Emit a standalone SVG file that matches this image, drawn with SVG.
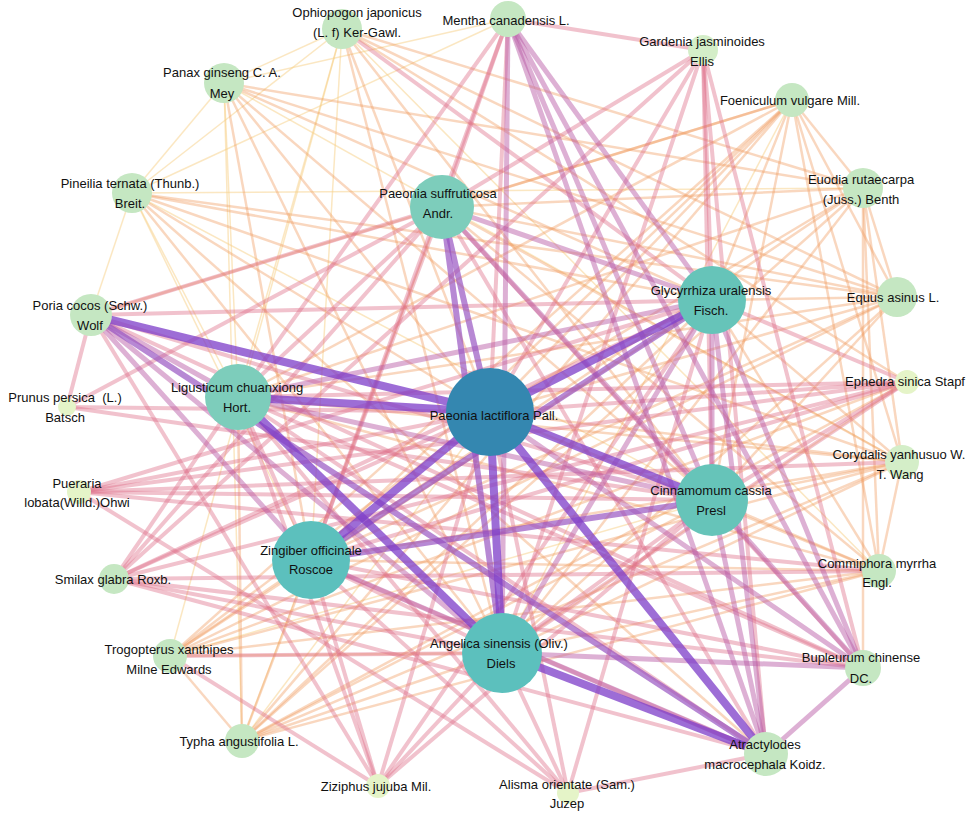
<svg xmlns="http://www.w3.org/2000/svg" width="976" height="813" viewBox="0 0 976 813">
<style>
  .g{stroke:#f8cf85;stroke-opacity:.5;stroke-width:1.5}
  .f{stroke:#f09a5e;stroke-opacity:.4;stroke-width:2.5}
  .d{stroke:#dd6d88;stroke-opacity:.42;stroke-width:4}
  .c{stroke:#b85aa6;stroke-opacity:.48;stroke-width:5}
  .b{stroke:#9550c0;stroke-opacity:.68;stroke-width:6}
  .a{stroke:#7e3fc9;stroke-opacity:.76;stroke-width:8}
  text{font-family:"Liberation Sans",Arial,sans-serif;font-size:13px;fill:#111;text-anchor:middle}
  .hub{fill:#3487b0}
  .t1{fill:#5cc0bd}
  .t2{fill:#66c4b9}
  .t3{fill:#7dcdbb}
  .n1{fill:#c5e7c2}
  .n2{fill:#d4eec8}
  .n3{fill:#e5f4c8}
</style>
<rect width="976" height="813" fill="#fff"/>
<g id="connectors" fill="none">
  <!-- yellow -->
  <line class="g" x1="342" y1="29" x2="224" y2="83"/>
  <line class="g" x1="342" y1="29" x2="132" y2="193"/>
  <line class="g" x1="224" y1="83" x2="132" y2="193"/>
  <line class="g" x1="132" y1="193" x2="863" y2="188"/>
  <line class="g" x1="224" y1="83" x2="238" y2="397"/>
  <line class="g" x1="342" y1="29" x2="238" y2="397"/>
  <line class="g" x1="132" y1="193" x2="238" y2="397"/>
  <line class="g" x1="132" y1="193" x2="91" y2="315"/>
  <line class="g" x1="342" y1="29" x2="311" y2="560"/>
  <line class="g" x1="132" y1="193" x2="311" y2="560"/>
  <line class="g" x1="224" y1="83" x2="242" y2="741"/>
  <line class="g" x1="342" y1="29" x2="170" y2="656"/>
  <line class="g" x1="224" y1="83" x2="902" y2="462"/>
  <line class="g" x1="342" y1="29" x2="879" y2="571"/>
  <line class="g" x1="508" y1="19" x2="224" y2="83"/>
  <line class="g" x1="508" y1="19" x2="132" y2="193"/>
  <line class="g" x1="442" y1="207" x2="242" y2="741"/>
  <line class="g" x1="712" y1="500" x2="170" y2="656"/>
  <line class="g" x1="502" y1="653" x2="907" y2="382"/>
  <line class="g" x1="490" y1="412" x2="242" y2="741"/>
  <line class="g" x1="502" y1="653" x2="792" y2="100"/>
  <line class="g" x1="132" y1="193" x2="712" y2="500"/>
  <!-- orange -->
  <line class="f" x1="792" y1="100" x2="442" y2="207"/>
  <line class="f" x1="792" y1="100" x2="490" y2="412"/>
  <line class="f" x1="792" y1="100" x2="311" y2="560"/>
  <line class="f" x1="792" y1="100" x2="238" y2="397"/>
  <line class="f" x1="792" y1="100" x2="242" y2="741"/>
  <line class="f" x1="792" y1="100" x2="170" y2="656"/>
  <line class="f" x1="792" y1="100" x2="712" y2="300"/>
  <line class="f" x1="792" y1="100" x2="712" y2="500"/>
  <line class="f" x1="792" y1="100" x2="863" y2="188"/>
  <line class="f" x1="792" y1="100" x2="897" y2="297"/>
  <line class="f" x1="792" y1="100" x2="902" y2="462"/>
  <line class="f" x1="792" y1="100" x2="879" y2="571"/>
  <line class="f" x1="792" y1="100" x2="91" y2="315"/>
  <line class="f" x1="863" y1="188" x2="490" y2="412"/>
  <line class="f" x1="863" y1="188" x2="238" y2="397"/>
  <line class="f" x1="863" y1="188" x2="311" y2="560"/>
  <line class="f" x1="863" y1="188" x2="502" y2="653"/>
  <line class="f" x1="863" y1="188" x2="224" y2="83"/>
  <line class="f" x1="863" y1="188" x2="342" y2="29"/>
  <line class="f" x1="863" y1="188" x2="902" y2="462"/>
  <line class="f" x1="863" y1="188" x2="879" y2="571"/>
  <line class="f" x1="863" y1="188" x2="897" y2="297"/>
  <line class="f" x1="863" y1="188" x2="442" y2="207"/>
  <line class="f" x1="863" y1="188" x2="242" y2="741"/>
  <line class="f" x1="863" y1="188" x2="863" y2="668"/>
  <line class="f" x1="897" y1="297" x2="442" y2="207"/>
  <line class="f" x1="897" y1="297" x2="490" y2="412"/>
  <line class="f" x1="897" y1="297" x2="238" y2="397"/>
  <line class="f" x1="897" y1="297" x2="311" y2="560"/>
  <line class="f" x1="897" y1="297" x2="502" y2="653"/>
  <line class="f" x1="897" y1="297" x2="712" y2="300"/>
  <line class="f" x1="897" y1="297" x2="224" y2="83"/>
  <line class="f" x1="897" y1="297" x2="132" y2="193"/>
  <line class="f" x1="897" y1="297" x2="170" y2="656"/>
  <line class="f" x1="897" y1="297" x2="712" y2="500"/>
  <line class="f" x1="902" y1="462" x2="490" y2="412"/>
  <line class="f" x1="902" y1="462" x2="502" y2="653"/>
  <line class="f" x1="902" y1="462" x2="311" y2="560"/>
  <line class="f" x1="902" y1="462" x2="238" y2="397"/>
  <line class="f" x1="902" y1="462" x2="712" y2="300"/>
  <line class="f" x1="902" y1="462" x2="712" y2="500"/>
  <line class="f" x1="902" y1="462" x2="170" y2="656"/>
  <line class="f" x1="902" y1="462" x2="242" y2="741"/>
  <line class="f" x1="902" y1="462" x2="879" y2="571"/>
  <line class="f" x1="902" y1="462" x2="132" y2="193"/>
  <line class="f" x1="902" y1="462" x2="442" y2="207"/>
  <line class="f" x1="879" y1="571" x2="490" y2="412"/>
  <line class="f" x1="879" y1="571" x2="502" y2="653"/>
  <line class="f" x1="879" y1="571" x2="311" y2="560"/>
  <line class="f" x1="879" y1="571" x2="238" y2="397"/>
  <line class="f" x1="879" y1="571" x2="712" y2="300"/>
  <line class="f" x1="879" y1="571" x2="712" y2="500"/>
  <line class="f" x1="879" y1="571" x2="170" y2="656"/>
  <line class="f" x1="879" y1="571" x2="242" y2="741"/>
  <line class="f" x1="879" y1="571" x2="442" y2="207"/>
  <line class="f" x1="242" y1="741" x2="502" y2="653"/>
  <line class="f" x1="242" y1="741" x2="311" y2="560"/>
  <line class="f" x1="242" y1="741" x2="238" y2="397"/>
  <line class="f" x1="242" y1="741" x2="712" y2="500"/>
  <line class="f" x1="242" y1="741" x2="712" y2="300"/>
  <line class="f" x1="242" y1="741" x2="170" y2="656"/>
  <line class="f" x1="170" y1="656" x2="311" y2="560"/>
  <line class="f" x1="170" y1="656" x2="490" y2="412"/>
  <line class="f" x1="170" y1="656" x2="502" y2="653"/>
  <line class="f" x1="170" y1="656" x2="712" y2="300"/>
  <line class="f" x1="224" y1="83" x2="712" y2="300"/>
  <line class="f" x1="224" y1="83" x2="712" y2="500"/>
  <line class="f" x1="224" y1="83" x2="311" y2="560"/>
  <line class="f" x1="224" y1="83" x2="502" y2="653"/>
  <line class="f" x1="224" y1="83" x2="490" y2="412"/>
  <line class="f" x1="342" y1="29" x2="712" y2="500"/>
  <line class="f" x1="342" y1="29" x2="490" y2="412"/>
  <line class="f" x1="342" y1="29" x2="502" y2="653"/>
  <line class="f" x1="342" y1="29" x2="907" y2="382"/>
  <line class="f" x1="342" y1="29" x2="897" y2="297"/>
  <line class="f" x1="132" y1="193" x2="712" y2="300"/>
  <line class="f" x1="132" y1="193" x2="502" y2="653"/>
  <line class="f" x1="132" y1="193" x2="766" y2="754"/>
  <line class="f" x1="132" y1="193" x2="490" y2="412"/>
  <line class="f" x1="907" y1="382" x2="170" y2="656"/>
  <line class="f" x1="907" y1="382" x2="242" y2="741"/>
  <!-- pink -->
  <line class="d" x1="508" y1="19" x2="703" y2="50"/>
  <line class="d" x1="508" y1="19" x2="311" y2="560"/>
  <line class="d" x1="508" y1="19" x2="238" y2="397"/>
  <line class="d" x1="508" y1="19" x2="442" y2="207"/>
  <line class="d" x1="508" y1="19" x2="490" y2="412"/>
  <line class="d" x1="703" y1="50" x2="442" y2="207"/>
  <line class="d" x1="703" y1="50" x2="490" y2="412"/>
  <line class="d" x1="703" y1="50" x2="502" y2="653"/>
  <line class="d" x1="703" y1="50" x2="712" y2="300"/>
  <line class="d" x1="703" y1="50" x2="712" y2="500"/>
  <line class="d" x1="703" y1="50" x2="863" y2="668"/>
  <line class="d" x1="703" y1="50" x2="766" y2="754"/>
  <line class="d" x1="703" y1="50" x2="114" y2="579"/>
  <line class="d" x1="712" y1="300" x2="907" y2="382"/>
  <line class="d" x1="442" y1="207" x2="238" y2="397"/>
  <line class="d" x1="442" y1="207" x2="311" y2="560"/>
  <line class="d" x1="442" y1="207" x2="91" y2="315"/>
  <line class="d" x1="442" y1="207" x2="67" y2="407"/>
  <line class="d" x1="238" y1="397" x2="311" y2="560"/>
  <line class="d" x1="91" y1="315" x2="67" y2="407"/>
  <line class="d" x1="67" y1="407" x2="490" y2="412"/>
  <line class="d" x1="67" y1="407" x2="712" y2="500"/>
  <line class="d" x1="79" y1="492" x2="907" y2="382"/>
  <line class="d" x1="79" y1="492" x2="902" y2="462"/>
  <line class="d" x1="79" y1="492" x2="712" y2="500"/>
  <line class="d" x1="79" y1="492" x2="879" y2="571"/>
  <line class="d" x1="79" y1="492" x2="490" y2="412"/>
  <line class="d" x1="79" y1="492" x2="712" y2="300"/>
  <line class="d" x1="79" y1="492" x2="568" y2="793"/>
  <line class="d" x1="114" y1="579" x2="238" y2="397"/>
  <line class="d" x1="114" y1="579" x2="490" y2="412"/>
  <line class="d" x1="114" y1="579" x2="712" y2="300"/>
  <line class="d" x1="114" y1="579" x2="442" y2="207"/>
  <line class="d" x1="114" y1="579" x2="907" y2="382"/>
  <line class="d" x1="114" y1="579" x2="863" y2="668"/>
  <line class="d" x1="114" y1="579" x2="879" y2="571"/>
  <line class="d" x1="114" y1="579" x2="502" y2="653"/>
  <line class="d" x1="114" y1="579" x2="766" y2="754"/>
  <line class="d" x1="378" y1="786" x2="502" y2="653"/>
  <line class="d" x1="378" y1="786" x2="490" y2="412"/>
  <line class="d" x1="378" y1="786" x2="311" y2="560"/>
  <line class="d" x1="378" y1="786" x2="238" y2="397"/>
  <line class="d" x1="378" y1="786" x2="712" y2="500"/>
  <line class="d" x1="378" y1="786" x2="712" y2="300"/>
  <line class="d" x1="378" y1="786" x2="91" y2="315"/>
  <line class="d" x1="568" y1="793" x2="502" y2="653"/>
  <line class="d" x1="568" y1="793" x2="490" y2="412"/>
  <line class="d" x1="568" y1="793" x2="311" y2="560"/>
  <line class="d" x1="568" y1="793" x2="238" y2="397"/>
  <line class="d" x1="568" y1="793" x2="766" y2="754"/>
  <line class="d" x1="568" y1="793" x2="712" y2="300"/>
  <line class="d" x1="907" y1="382" x2="490" y2="412"/>
  <line class="d" x1="907" y1="382" x2="502" y2="653"/>
  <line class="d" x1="907" y1="382" x2="311" y2="560"/>
  <line class="d" x1="907" y1="382" x2="238" y2="397"/>
  <line class="d" x1="907" y1="382" x2="712" y2="500"/>
  <line class="d" x1="863" y1="668" x2="311" y2="560"/>
  <line class="d" x1="863" y1="668" x2="238" y2="397"/>
  <line class="d" x1="766" y1="754" x2="311" y2="560"/>
  <line class="d" x1="91" y1="315" x2="712" y2="300"/>
  <line class="d" x1="91" y1="315" x2="712" y2="500"/>
  <line class="d" x1="91" y1="315" x2="863" y2="668"/>
  <line class="d" x1="442" y1="207" x2="766" y2="754"/>
  <line class="d" x1="442" y1="207" x2="863" y2="668"/>
  <line class="d" x1="311" y1="560" x2="502" y2="653"/>
  <line class="d" x1="502" y1="653" x2="712" y2="500"/>
  <line class="d" x1="170" y1="656" x2="378" y2="786"/>
  <line class="d" x1="170" y1="656" x2="502" y2="653"/>
  <line class="d" x1="342" y1="29" x2="712" y2="300"/>
  <line class="d" x1="238" y1="397" x2="766" y2="754"/>
  <!-- magenta -->
  <line class="c" x1="508" y1="19" x2="712" y2="300"/>
  <line class="c" x1="508" y1="19" x2="766" y2="754"/>
  <line class="c" x1="508" y1="19" x2="863" y2="668"/>
  <line class="c" x1="508" y1="19" x2="502" y2="653"/>
  <line class="c" x1="508" y1="19" x2="712" y2="500"/>
  <line class="c" x1="712" y1="300" x2="712" y2="500"/>
  <line class="c" x1="712" y1="300" x2="766" y2="754"/>
  <line class="c" x1="712" y1="300" x2="863" y2="668"/>
  <line class="c" x1="712" y1="300" x2="502" y2="653"/>
  <line class="c" x1="712" y1="500" x2="766" y2="754"/>
  <line class="c" x1="712" y1="500" x2="863" y2="668"/>
  <line class="c" x1="502" y1="653" x2="863" y2="668"/>
  <line class="c" x1="766" y1="754" x2="863" y2="668"/>
  <line class="c" x1="442" y1="207" x2="712" y2="300"/>
  <line class="c" x1="91" y1="315" x2="238" y2="397"/>
  <line class="c" x1="91" y1="315" x2="311" y2="560"/>
  <line class="c" x1="91" y1="315" x2="502" y2="653"/>
  <line class="c" x1="238" y1="397" x2="712" y2="500"/>
  <line class="c" x1="311" y1="560" x2="766" y2="754"/>
  <line class="c" x1="490" y1="412" x2="863" y2="668"/>
  <line class="c" x1="238" y1="397" x2="712" y2="300"/>
  <line class="c" x1="442" y1="207" x2="712" y2="500"/>
  <!-- purple -->
  <line class="b" x1="311" y1="560" x2="712" y2="300"/>
  <line class="b" x1="311" y1="560" x2="712" y2="500"/>
  <line class="b" x1="442" y1="207" x2="490" y2="412"/>
  <line class="b" x1="442" y1="207" x2="502" y2="653"/>
  <line class="b" x1="91" y1="315" x2="766" y2="754"/>
  <!-- thick purple -->
  <line class="a" x1="91" y1="315" x2="490" y2="412"/>
  <line class="a" x1="238" y1="397" x2="490" y2="412"/>
  <line class="a" x1="712" y1="300" x2="490" y2="412"/>
  <line class="a" x1="311" y1="560" x2="490" y2="412"/>
  <line class="a" x1="502" y1="653" x2="490" y2="412"/>
  <line class="a" x1="712" y1="500" x2="490" y2="412"/>
  <line class="a" x1="766" y1="754" x2="490" y2="412"/>
  <line class="a" x1="238" y1="397" x2="502" y2="653"/>
  <line class="a" x1="502" y1="653" x2="766" y2="754"/>
</g>
<g id="node-ophiopogon"><circle class="n1" cx="342" cy="29" r="20"/><text x="357" y="17">Ophiopogon japonicus</text><text x="357" y="37">(L. f) Ker-Gawl.</text></g>
<g id="node-mentha"><circle class="n1" cx="508" cy="19" r="18"/><text x="506" y="25">Mentha canadensis L.</text></g>
<g id="node-gardenia"><circle class="n2" cx="703" cy="50" r="15"/><text x="702" y="46">Gardenia jasminoides</text><text x="702" y="66">Ellis</text></g>
<g id="node-panax"><circle class="n1" cx="224" cy="83" r="20"/><text x="222" y="77">Panax ginseng C. A.</text><text x="222" y="98">Mey</text></g>
<g id="node-foeniculum"><circle class="n1" cx="792" cy="100" r="17"/><text x="790" y="105">Foeniculum vulgare Mill.</text></g>
<g id="node-euodia"><circle class="n1" cx="863" cy="188" r="20"/><text x="861" y="184">Euodia rutaecarpa</text><text x="861" y="204">(Juss.) Benth</text></g>
<g id="node-pineilia"><circle class="n1" cx="132" cy="193" r="20"/><text x="130" y="188">Pineilia ternata (Thunb.)</text><text x="130" y="208">Breit.</text></g>
<g id="node-paeonia-suffruticosa"><circle class="t3" cx="442" cy="207" r="32"/><text x="438" y="198">Paeonia suffruticosa</text><text x="438" y="218">Andr.</text></g>
<g id="node-glycyrrhiza"><circle class="t2" cx="712" cy="300" r="34"/><text x="711" y="295">Glycyrrhiza uralensis</text><text x="711" y="315">Fisch.</text></g>
<g id="node-equus"><circle class="n1" cx="897" cy="297" r="20"/><text x="893" y="302">Equus asinus L.</text></g>
<g id="node-poria"><circle class="n1" cx="91" cy="315" r="21"/><text x="90" y="310">Poria cocos (Schw.)</text><text x="90" y="330">Wolf</text></g>
<g id="node-ephedra"><circle class="n3" cx="907" cy="382" r="12"/><text x="905" y="386">Ephedra sinica Stapf</text></g>
<g id="node-ligusticum"><circle class="t3" cx="238" cy="397" r="33"/><text x="237" y="392">Ligusticum chuanxiong</text><text x="237" y="412">Hort.</text></g>
<g id="node-prunus"><circle class="n3" cx="67" cy="407" r="9"/><text x="65" y="402" xml:space="preserve">Prunus persica  (L.)</text><text x="65" y="422">Batsch</text></g>
<g id="node-paeonia-lactiflora"><circle class="hub" cx="490" cy="412" r="44"/><text x="494" y="420">Paeonia lactiflora Pall.</text></g>
<g id="node-corydalis"><circle class="n2" cx="902" cy="462" r="17"/><text x="899" y="459">Corydalis yanhusuo W.</text><text x="900" y="479">T. Wang</text></g>
<g id="node-pueraria"><circle class="n3" cx="79" cy="492" r="12"/><text x="77" y="488">Pueraria</text><text x="77" y="507">lobata(Willd.)Ohwi</text></g>
<g id="node-cinnamomum"><circle class="t2" cx="712" cy="500" r="36"/><text x="711" y="495">Cinnamomum cassia</text><text x="711" y="515">Presl</text></g>
<g id="node-zingiber"><circle class="t1" cx="311" cy="560" r="39"/><text x="311" y="555">Zingiber officinale</text><text x="311" y="574">Roscoe</text></g>
<g id="node-commiphora"><circle class="n1" cx="879" cy="571" r="17"/><text x="877" y="568">Commiphora myrrha</text><text x="877" y="587">Engl.</text></g>
<g id="node-smilax"><circle class="n1" cx="114" cy="579" r="15"/><text x="113" y="584">Smilax glabra Roxb.</text></g>
<g id="node-angelica"><circle class="t1" cx="502" cy="653" r="40"/><text x="499" y="648">Angelica sinensis (Oliv.)</text><text x="501" y="668">Diels</text></g>
<g id="node-trogopterus"><circle class="n1" cx="170" cy="656" r="17"/><text x="169" y="654">Trogopterus xanthipes</text><text x="169" y="674">Milne Edwards</text></g>
<g id="node-bupleurum"><circle class="n1" cx="863" cy="668" r="18"/><text x="861" y="662">Bupleurum chinense</text><text x="861" y="683">DC.</text></g>
<g id="node-typha"><circle class="n1" cx="242" cy="741" r="17"/><text x="239" y="746">Typha angustifolia L.</text></g>
<g id="node-atractylodes"><circle class="n1" cx="766" cy="754" r="22"/><text x="765" y="749">Atractylodes</text><text x="765" y="769">macrocephala Koidz.</text></g>
<g id="node-ziziphus"><circle class="n3" cx="378" cy="786" r="12"/><text x="376" y="791">Ziziphus jujuba Mil.</text></g>
<g id="node-alisma"><circle class="n3" cx="568" cy="793" r="11"/><text x="567" y="789">Alisma orientate (Sam.)</text><text x="567" y="808">Juzep</text></g>
</svg>
